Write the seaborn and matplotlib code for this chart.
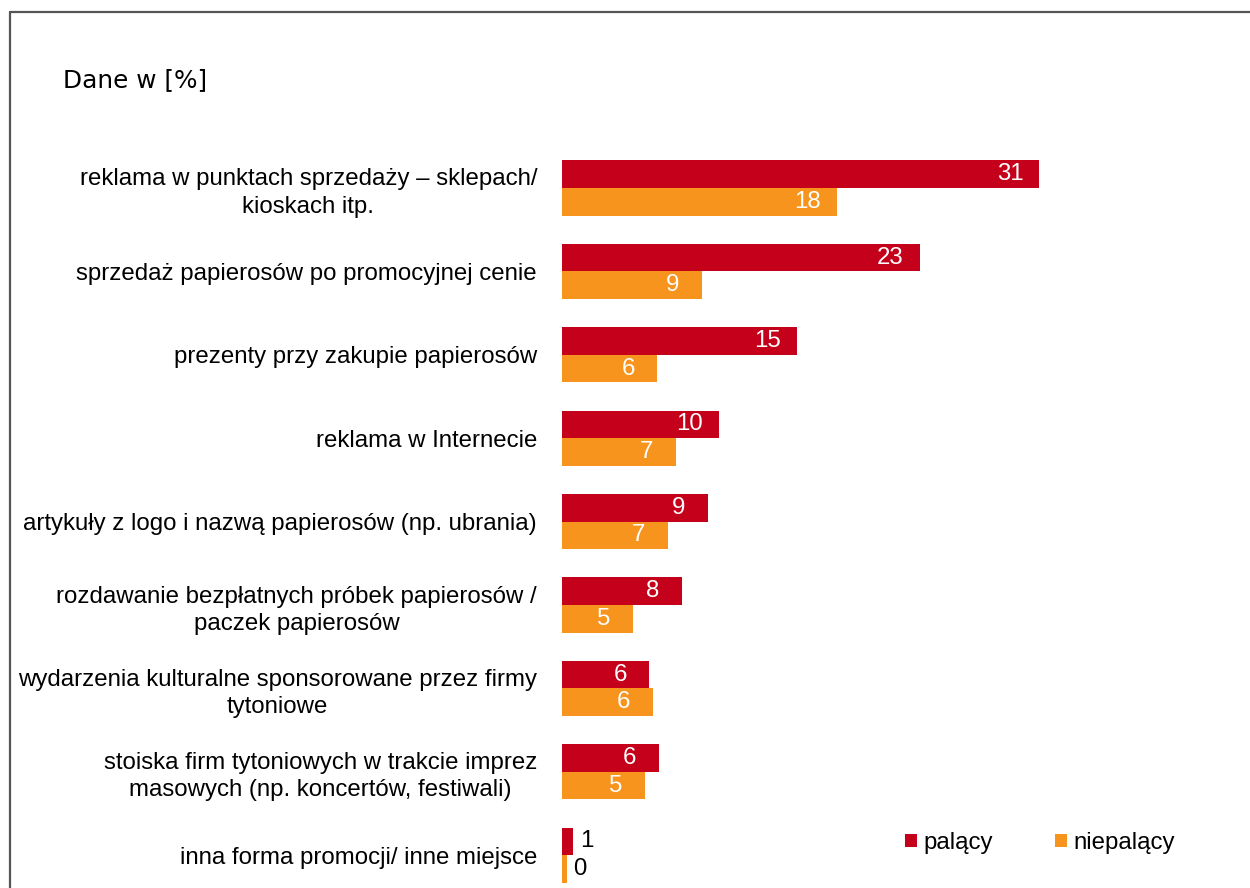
import matplotlib
matplotlib.use("Agg")
import matplotlib.pyplot as plt
from matplotlib.lines import Line2D
from matplotlib.patches import Patch
import seaborn as sns
import pandas as pd

categories = [
    "reklama w punktach sprzedaży – sklepach/\nkioskach itp.",
    "sprzedaż papierosów po promocyjnej cenie",
    "prezenty przy zakupie papierosów",
    "reklama w Internecie",
    "artykuły z logo i nazwą papierosów (np. ubrania)",
    "rozdawanie bezpłatnych próbek papierosów /\npaczek papierosów",
    "wydarzenia kulturalne sponsorowane przez firmy\ntytoniowe",
    "stoiska firm tytoniowych w trakcie imprez\nmasowych (np. koncertów, festiwali)",
    "inna forma promocji/ inne miejsce",
]
series_names = ["palący", "niepalący"]
palacy = [31.1, 23.3, 15.3, 10.2, 9.5, 7.8, 5.7, 6.3, 0.7]
niepalacy = [17.9, 9.1, 6.2, 7.4, 6.9, 4.6, 5.9, 5.4, 0.3]
palacy_labels = ["31", "23", "15", "10", "9", "8", "6", "6", "1"]
niepalacy_labels = ["18", "9", "6", "7", "7", "5", "6", "5", "0"]
title_text = "Dane w [%]"

RED = "#C5001A"
ORANGE = "#F7941E"
FS = 17.3

sns.set_theme(style="white")
plt.rcParams["font.family"] = ["Liberation Sans", "DejaVu Sans"]

df = pd.DataFrame({
    "kategoria": categories * 2,
    "seria": [series_names[0]] * len(categories) + [series_names[1]] * len(categories),
    "wartosc": palacy + niepalacy,
})

fig = plt.figure(figsize=(12.5, 8.88), dpi=100)
ax = fig.add_axes([562 / 1250, 0.0, (1250 - 562) / 1250, (888 - 105) / 888])

sns.barplot(data=df, y="kategoria", x="wartosc", hue="seria", order=categories,
            hue_order=series_names, palette=[RED, ORANGE], orient="h",
            width=0.66, gap=0, dodge=True, legend=False, ax=ax, saturation=1,
            linewidth=0)

px_per_unit = 15.35
ax.set_xlim(0, (1250 - 562) / px_per_unit)
ax.set_ylim((888 - 188) / 83.4, (105 - 188) / 83.4)
ax.set_xlabel("")
ax.set_ylabel("")
ax.set_xticks([])
for s in ax.spines.values():
    s.set_visible(False)
ax.set_yticks(range(len(categories)))
ax.set_yticklabels(categories, fontsize=FS, color="#000000",
                   multialignment="center", linespacing=1.3)
ax.tick_params(axis="y", length=0, pad=18)

# value labels
for cont, labels in zip(ax.containers, [palacy_labels, niepalacy_labels]):
    for bar, lab in zip(cont.patches, labels):
        w = bar.get_width()
        yc = bar.get_y() + bar.get_height() / 2
        if w < 2:
            ax.text(w + 0.45, yc, lab, ha="left", va="center", fontsize=FS, color="#000000")
        else:
            ax.text(w - 1.9, yc, lab, ha="center", va="center", fontsize=FS, color="white")

# legend
handles = [Patch(facecolor=RED, edgecolor="none"), Patch(facecolor=ORANGE, edgecolor="none")]
fig.legend(handles, series_names, loc="center left", bbox_to_anchor=(905 / 1250, 1 - 843 / 888),
           ncol=2, frameon=False, fontsize=FS, handlelength=0.5, handleheight=0.5,
           handletextpad=0.25, columnspacing=2.6, borderaxespad=0, borderpad=0,
           labelcolor="#000000")

fig.text(63 / 1250, 1 - 80 / 888, title_text, fontsize=17.8, family="DejaVu Sans",
         va="center", ha="left", color="#000000")

# outer frame
fig.add_artist(Line2D([10 / 1250, 10 / 1250], [0, 1 - 12 / 888], color="#555555", lw=1.6,
                      transform=fig.transFigure))
fig.add_artist(Line2D([10 / 1250, 1], [1 - 12 / 888, 1 - 12 / 888], color="#555555", lw=1.6,
                      transform=fig.transFigure))

fig.savefig("out.png", dpi=100)
